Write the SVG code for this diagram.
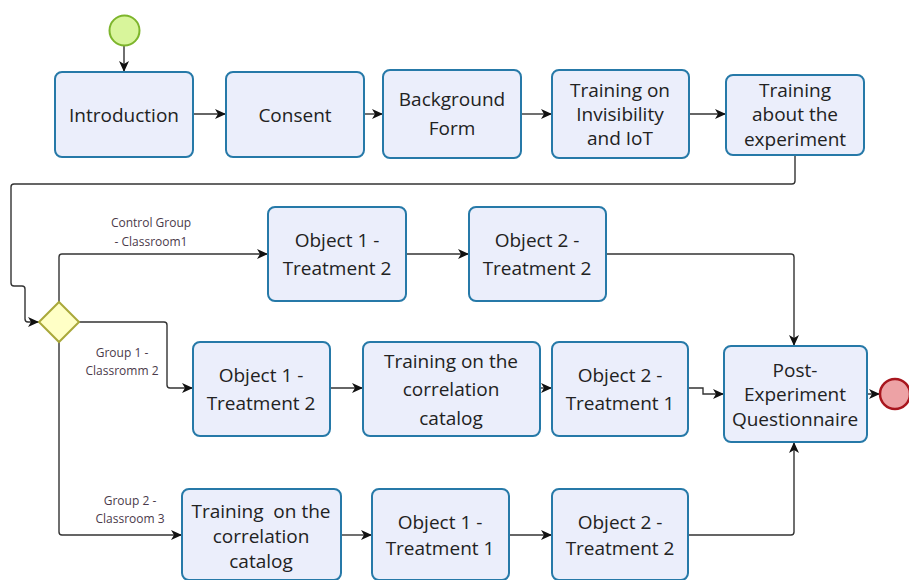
<svg xmlns="http://www.w3.org/2000/svg" width="909" height="580" viewBox="0 0 909 580">
<defs>
<marker id="arr" markerUnits="userSpaceOnUse" markerWidth="12" markerHeight="10" refX="11" refY="5" orient="auto">
<path d="M0,0 L11,5 L0,10 L3,5 z" fill="#111"/>
</marker>
<style>
.box{fill:#EBEEFB;stroke:#2679A8;stroke-width:2}
.t{font-family:"Open Sans","Noto Sans",sans-serif;font-size:19px;fill:#222;text-anchor:middle;dominant-baseline:central}
.lbl{font-family:"Open Sans","Noto Sans",sans-serif;font-size:12px;fill:#4a3a4a;text-anchor:middle;dominant-baseline:central}
.c{fill:none;stroke:#333;stroke-width:1.4;marker-end:url(#arr)}
</style>
</defs>
<rect width="909" height="580" fill="#fff"/>
<g id="connectors">
<path class="c" d="M124,46 V72"/>
<path class="c" d="M193,114 H226"/>
<path class="c" d="M364,114 H383"/>
<path class="c" d="M521,114 H552"/>
<path class="c" d="M689,114 H726"/>
<path class="c" d="M795,155 V181 Q795,184 792,184 H14 Q11,184 11,187 V283 Q11,286 14,286 H22 Q25,286 25,289 V319 Q25,322 28,322 H39"/>
<path class="c" d="M59,302 V257 Q59,254 62,254 H268"/>
<path class="c" d="M406,254 H469"/>
<path class="c" d="M606,254 H791 Q794,254 794,257 V346"/>
<path class="c" d="M79,322 H164 Q167,322 167,325 V385 Q167,388 170,388 H193"/>
<path class="c" d="M330,388 H363"/>
<path class="c" d="M540,388 H552"/>
<path class="c" d="M688,388 H703 V394 H724"/>
<path class="c" d="M867,394 H880"/>
<path class="c" d="M59,342 V532 Q59,535 62,535 H182"/>
<path class="c" d="M341,535 H372"/>
<path class="c" d="M509,535 H552"/>
<path class="c" d="M688,535 H791 Q794,535 794,532 V442"/>
</g>
<g id="start"><circle cx="124.5" cy="30.5" r="15" fill="#D8F59B" stroke="#7DB52C" stroke-width="2"/></g>
<g id="introduction"><rect class="box" x="55" y="72" width="138" height="85" rx="7"/><text class="t" x="124" y="115">Introduction</text></g>
<g id="consent"><rect class="box" x="226" y="72" width="138" height="85" rx="7"/><text class="t" x="295" y="115">Consent</text></g>
<g id="background"><rect class="box" x="383" y="70" width="138" height="88" rx="7"/><text class="t" x="452" y="99">Background</text><text class="t" x="452" y="128">Form</text></g>
<g id="training-invisibility"><rect class="box" x="552" y="70" width="137" height="88" rx="7"/><text class="t" x="620" y="90">Training on</text><text class="t" x="620" y="114">Invisibility</text><text class="t" x="620" y="138">and IoT</text></g>
<g id="training-experiment"><rect class="box" x="726" y="75" width="138" height="80" rx="7"/><text class="t" x="795" y="90">Training</text><text class="t" x="795" y="114">about the</text><text class="t" x="795" y="139">experiment</text></g>
<g id="gateway"><path d="M59,302 L79,322 L59,342 L39,322 z" fill="#FFFFC6" stroke="#A9A83A" stroke-width="2"/></g>
<g id="labels">
<text class="lbl" x="151" y="222">Control Group</text><text class="lbl" x="151" y="241">- Classroom1</text>
<text class="lbl" x="122" y="352">Group 1 -</text><text class="lbl" x="122" y="370">Classromm 2</text>
<text class="lbl" x="130" y="500">Group 2 -</text><text class="lbl" x="130" y="518">Classroom 3</text>
</g>
<g id="c-obj1-t2"><rect class="box" x="268" y="207" width="138" height="94" rx="7"/><text class="t" x="337" y="240">Object 1 -</text><text class="t" x="337" y="268">Treatment 2</text></g>
<g id="c-obj2-t2"><rect class="box" x="469" y="207" width="137" height="94" rx="7"/><text class="t" x="537" y="240">Object 2 -</text><text class="t" x="537" y="268">Treatment 2</text></g>
<g id="g1-obj1-t2"><rect class="box" x="193" y="342" width="137" height="94" rx="7"/><text class="t" x="261" y="375">Object 1 -</text><text class="t" x="261" y="403">Treatment 2</text></g>
<g id="g1-training"><rect class="box" x="363" y="342" width="177" height="94" rx="7"/><text class="t" x="451" y="361">Training on the</text><text class="t" x="451" y="389">correlation</text><text class="t" x="451" y="418">catalog</text></g>
<g id="g1-obj2-t1"><rect class="box" x="552" y="342" width="136" height="94" rx="7"/><text class="t" x="620" y="375">Object 2 -</text><text class="t" x="620" y="403">Treatment 1</text></g>
<g id="post"><rect class="box" x="724" y="346" width="143" height="96" rx="7"/><text class="t" x="795" y="370">Post-</text><text class="t" x="795" y="394">Experiment</text><text class="t" x="795" y="419">Questionnaire</text></g>
<g id="end"><circle cx="895" cy="394" r="15" fill="#EDA2A5" stroke="#A8161E" stroke-width="2.5"/></g>
<g id="g2-training"><rect class="box" x="182" y="489" width="159" height="91" rx="7"/><text class="t" x="261" y="511" xml:space="preserve">Training  on the</text><text class="t" x="261" y="536">correlation</text><text class="t" x="261" y="561">catalog</text></g>
<g id="g2-obj1-t1"><rect class="box" x="372" y="489" width="137" height="91" rx="7"/><text class="t" x="440" y="522">Object 1 -</text><text class="t" x="440" y="548">Treatment 1</text></g>
<g id="g2-obj2-t2"><rect class="box" x="552" y="489" width="136" height="91" rx="7"/><text class="t" x="620" y="522">Object 2 -</text><text class="t" x="620" y="548">Treatment 2</text></g>
</svg>
